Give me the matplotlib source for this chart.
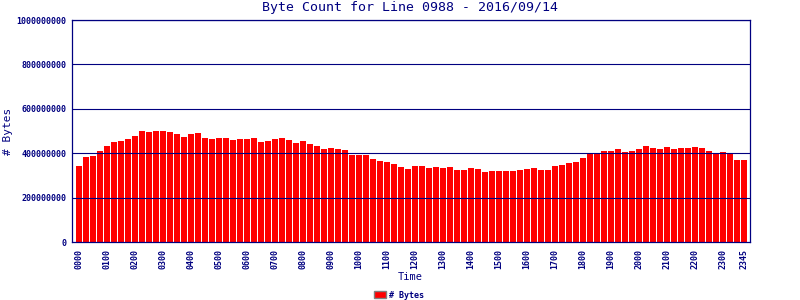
import matplotlib
matplotlib.use("Agg")
import matplotlib.pyplot as plt
from matplotlib.patches import Patch

NAVY = "#000080"
RED = "#FF0000"

title = "Byte Count for Line 0988 - 2016/09/14"
series_name = "# Bytes"
x_title = "Time"

# bytes per 15-minute interval (96 intervals, 0000 .. 2345)
byte_counts = [
    344e6, 384e6, 389e6, 411e6, 434e6, 452e6, 456e6, 465e6,
    479e6, 501e6, 497e6, 501e6, 501e6, 497e6, 488e6, 474e6,
    488e6, 492e6, 470e6, 465e6, 470e6, 470e6, 461e6, 465e6,
    465e6, 470e6, 452e6, 456e6, 465e6, 470e6, 461e6, 447e6,
    456e6, 443e6, 434e6, 420e6, 425e6, 420e6, 416e6, 393e6,
    393e6, 393e6, 375e6, 366e6, 362e6, 353e6, 339e6, 330e6,
    344e6, 344e6, 335e6, 339e6, 335e6, 339e6, 326e6, 326e6,
    335e6, 330e6, 317e6, 321e6, 321e6, 321e6, 321e6, 326e6,
    330e6, 335e6, 326e6, 326e6, 344e6, 348e6, 357e6, 362e6,
    380e6, 402e6, 402e6, 411e6, 411e6, 420e6, 407e6, 411e6,
    420e6, 434e6, 425e6, 420e6, 429e6, 420e6, 425e6, 425e6,
    429e6, 425e6, 411e6, 402e6, 407e6, 398e6, 371e6, 371e6,
]

tick_labels = ["0000", "0100", "0200", "0300", "0400", "0500", "0600", "0700",
               "0800", "0900", "1000", "1100", "1200", "1300", "1400", "1500",
               "1600", "1700", "1800", "1900", "2000", "2100", "2200", "2300",
               "2345"]
y_ticks = [0, 200000000, 400000000, 600000000, 800000000, 1000000000]

fig = plt.figure(figsize=(8, 3), dpi=100)
ax = fig.add_axes([71.7 / 800, 58 / 300, (750 - 71.7) / 800, 222 / 300])

xs = list(range(len(byte_counts)))
ax.bar(xs, byte_counts, width=0.86, color=RED, linewidth=0, zorder=2)

ax.set_xlim(-1.05, len(byte_counts) - 1 + 0.86)
ax.set_ylim(0, 1e9)

for v in y_ticks[1:]:
    ax.axhline(v, color=NAVY, linewidth=0.8, zorder=3)

mono = "DejaVu Sans Mono"
ax.set_yticks(y_ticks)
ax.set_yticklabels([str(v) for v in y_ticks], fontsize=6, fontweight="bold",
                   family=mono, color=NAVY)
tick_pos = [4 * i for i in range(24)] + [len(byte_counts) - 1]
ax.set_xticks(tick_pos)
ax.set_xticklabels(tick_labels, rotation=90, fontsize=6, fontweight="bold",
                   family=mono, color=NAVY, va="top")
ax.tick_params(axis="both", length=0)
ax.tick_params(axis="x", pad=5)
ax.tick_params(axis="y", pad=4)

for s in ax.spines.values():
    s.set_color(NAVY)
    s.set_linewidth(0.9)
    s.set_zorder(4)

fig.text(410 / 800, 1 - 8 / 300, title, ha="center", va="center",
         fontsize=9.5, family=mono, color=NAVY)
fig.text(410 / 800, 1 - 277 / 300, x_title, ha="center", va="center",
         fontsize=7.5, family=mono, color=NAVY)
fig.text(8 / 800, 1 - 131 / 300, series_name, ha="center", va="center",
         rotation=90, fontsize=8, family=mono, color=NAVY)

handle = Patch(facecolor=RED, edgecolor="#808080", linewidth=1.0)
leg = fig.legend([handle], [series_name], loc="center",
                 bbox_to_anchor=(399 / 800, 1 - 295 / 300), frameon=False,
                 handlelength=1.4, handleheight=0.9, handletextpad=0.4,
                 prop={"family": mono, "size": 6, "weight": "bold"})
for t in leg.get_texts():
    t.set_color(NAVY)

fig.savefig("out.png", dpi=100)
